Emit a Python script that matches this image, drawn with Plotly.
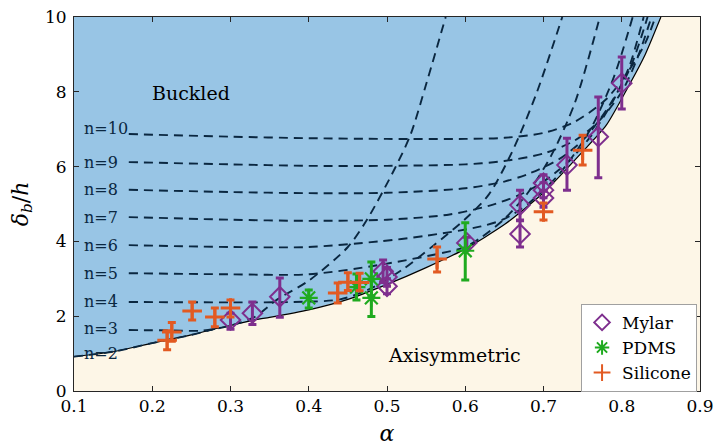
import plotly.graph_objects as go

# ---------------- data ----------------
# phase boundary (lower envelope of the neutral curves)
boundary_alpha = [0.10, 0.15, 0.20, 0.25, 0.28, 0.30, 0.33, 0.35, 0.40, 0.45, 0.50, 0.55, 0.60, 0.65, 0.70, 0.75, 0.78, 0.81, 0.83, 0.85]
boundary_delta = [0.92, 1.05, 1.28, 1.50, 1.66, 1.75, 1.90, 1.97, 2.17, 2.45, 2.85, 3.30, 3.80, 4.45, 5.30, 6.40, 7.10, 8.20, 9.00, 10.0]

# neutral curves for mode number n
n2_alpha = [0.10, 0.15, 0.20, 0.25, 0.28]
n2_delta = [0.92, 1.05, 1.28, 1.50, 1.66]
n3_alpha = [0.17, 0.22, 0.26, 0.28, 0.30, 0.33, 0.36, 0.40, 0.45, 0.475, 0.51, 0.53, 0.55, 0.575]
n3_delta = [1.63, 1.62, 1.61, 1.66, 1.75, 1.97, 2.45, 2.95, 3.85, 4.60, 5.95, 6.85, 8.20, 10.0]
n4_alpha = [0.17, 0.30, 0.38, 0.44, 0.48, 0.52, 0.56, 0.60, 0.63, 0.66, 0.69, 0.724]
n4_delta = [2.38, 2.37, 2.38, 2.45, 2.75, 3.25, 3.90, 4.60, 5.25, 6.40, 7.90, 10.0]
n5_alpha = [0.17, 0.30, 0.40, 0.49, 0.577, 0.60, 0.62, 0.65, 0.68, 0.71, 0.74, 0.772]
n5_delta = [3.15, 3.12, 3.12, 3.37, 3.72, 3.85, 4.10, 4.60, 5.30, 6.30, 7.70, 10.0]
n6_alpha = [0.17, 0.30, 0.40, 0.49, 0.55, 0.62, 0.65, 0.68, 0.72, 0.76, 0.79, 0.814]
n6_delta = [3.90, 3.85, 3.85, 4.00, 4.15, 4.40, 4.60, 5.00, 5.80, 7.00, 8.40, 10.0]
n7_alpha = [0.17, 0.30, 0.40, 0.50, 0.58, 0.63, 0.67, 0.70, 0.73, 0.76, 0.79, 0.81, 0.828]
n7_delta = [4.65, 4.58, 4.55, 4.58, 4.72, 4.95, 5.25, 5.60, 6.10, 6.80, 7.80, 8.70, 10.0]
n8_alpha = [0.17, 0.30, 0.40, 0.50, 0.60, 0.65, 0.68, 0.72, 0.75, 0.78, 0.81, 0.833]
n8_delta = [5.38, 5.32, 5.29, 5.30, 5.42, 5.60, 5.80, 6.20, 6.70, 7.50, 8.60, 10.0]
n9_alpha = [0.17, 0.30, 0.40, 0.50, 0.60, 0.65, 0.70, 0.74, 0.77, 0.80, 0.82, 0.838]
n9_delta = [6.12, 6.06, 6.02, 6.02, 6.06, 6.15, 6.35, 6.70, 7.20, 8.00, 8.90, 10.0]
n10_alpha = [0.17, 0.30, 0.40, 0.50, 0.60, 0.65, 0.70, 0.74, 0.78, 0.81, 0.83, 0.843]
n10_delta = [6.87, 6.80, 6.76, 6.74, 6.74, 6.77, 6.90, 7.20, 7.80, 8.60, 9.30, 10.0]

mode_labels = ["n=2", "n=3", "n=4", "n=5", "n=6", "n=7", "n=8", "n=9", "n=10"]
mode_label_delta = [0.99, 1.68, 2.40, 3.15, 3.88, 4.65, 5.40, 6.12, 7.03]

# experiments
mylar_alpha = [0.30, 0.328, 0.363, 0.495, 0.50, 0.50, 0.602, 0.67, 0.67, 0.70, 0.70, 0.70, 0.73, 0.77, 0.80]
mylar_delta = [1.90, 2.08, 2.52, 3.20, 3.05, 2.80, 3.96, 4.97, 4.20, 5.56, 5.37, 5.16, 6.04, 6.80, 8.23]
mylar_err_up = [0.18, 0.30, 0.50, 0.30, 0.25, 0.20, 0.15, 0.40, 0.35, 0.22, 0.20, 0.20, 0.72, 1.06, 0.70]
mylar_err_dn = [0.25, 0.30, 0.55, 0.30, 0.25, 0.20, 0.15, 0.40, 0.35, 0.22, 0.20, 0.25, 0.67, 1.10, 0.69]

pdms_alpha = [0.40, 0.461, 0.48, 0.48, 0.60]
pdms_delta = [2.49, 2.78, 3.00, 2.49, 3.75]
pdms_err_up = [0.21, 0.35, 0.45, 0.50, 0.75]
pdms_err_dn = [0.27, 0.35, 0.45, 0.50, 0.78]

silicone_alpha = [0.219, 0.225, 0.251, 0.28, 0.30, 0.437, 0.45, 0.465, 0.564, 0.70, 0.75]
silicone_delta = [1.36, 1.58, 2.14, 1.98, 2.22, 2.62, 2.91, 2.90, 3.53, 4.79, 6.44]
silicone_err_up = [0.25, 0.25, 0.24, 0.24, 0.21, 0.27, 0.25, 0.25, 0.32, 0.24, 0.40]
silicone_err_dn = [0.26, 0.25, 0.24, 0.26, 0.24, 0.27, 0.22, 0.22, 0.35, 0.22, 0.40]

# ---------------- styling ----------------
BLUE = "#98C5E5"
CREAM = "#FDF6E7"
DASH = "#0A2740"
MYLAR = "#7E2F8E"
PDMS = "#1FAA1F"
SILICONE = "#E25A22"
FONT = "DejaVu Serif"

fig = go.Figure()

# cream (axisymmetric) region below the boundary, and right of it
fig.add_trace(go.Scatter(
    x=boundary_alpha + [0.9], y=boundary_delta + [boundary_delta[-1]],
    mode="lines", line=dict(width=0, color=CREAM), fill="tozeroy",
    fillcolor=CREAM, hoverinfo="skip", showlegend=False))
fig.add_trace(go.Scatter(
    x=boundary_alpha, y=boundary_delta, mode="lines",
    line=dict(color="black", width=1.2, shape="spline", smoothing=0.6),
    hoverinfo="skip", showlegend=False))

curves = [(n2_alpha, n2_delta), (n3_alpha, n3_delta), (n4_alpha, n4_delta),
          (n5_alpha, n5_delta), (n6_alpha, n6_delta), (n7_alpha, n7_delta),
          (n8_alpha, n8_delta), (n9_alpha, n9_delta), (n10_alpha, n10_delta)]
for ca, cd in curves:
    fig.add_trace(go.Scatter(
        x=ca, y=cd, mode="lines",
        line=dict(color=DASH, width=1.9, dash="9px,6px", shape="spline", smoothing=0.8),
        hoverinfo="skip", showlegend=False))

fig.add_trace(go.Scatter(
    x=mylar_alpha, y=mylar_delta, mode="markers", name="Mylar",
    marker=dict(symbol="diamond-open", size=15, color=MYLAR, line=dict(width=2, color=MYLAR)),
    error_y=dict(type="data", symmetric=False, array=mylar_err_up, arrayminus=mylar_err_dn,
                 color=MYLAR, thickness=3, width=4)))
fig.add_trace(go.Scatter(
    x=pdms_alpha, y=pdms_delta, mode="markers", name="PDMS",
    marker=dict(symbol="asterisk-open", size=15, color=PDMS, line=dict(width=2.2, color=PDMS)),
    error_y=dict(type="data", symmetric=False, array=pdms_err_up, arrayminus=pdms_err_dn,
                 color=PDMS, thickness=3, width=4)))
fig.add_trace(go.Scatter(
    x=silicone_alpha, y=silicone_delta, mode="markers", name="Silicone",
    marker=dict(symbol="cross-thin-open", size=14, color=SILICONE, line=dict(width=3, color=SILICONE)),
    error_y=dict(type="data", symmetric=False, array=silicone_err_up, arrayminus=silicone_err_dn,
                 color=SILICONE, thickness=3, width=4)))

for lab, yv in zip(mode_labels, mode_label_delta):
    fig.add_annotation(x=0.110, y=yv, text=lab, showarrow=False, xanchor="left",
                       yanchor="middle", font=dict(family=FONT, size=16, color=DASH))

fig.add_annotation(x=0.25, y=7.97, text="Buckled", showarrow=False,
                   font=dict(family=FONT, size=19, color="black"))
fig.add_annotation(x=0.586, y=0.96, text="Axisymmetric", showarrow=False,
                   font=dict(family=FONT, size=19, color="black"))

axis_common = dict(showline=True, linecolor="#262626", linewidth=1, mirror="ticks",
                   ticks="inside", ticklen=5, tickcolor="#262626", showgrid=False,
                   zeroline=False, automargin=False,
                   tickfont=dict(family=FONT, size=17, color="black"))

fig.update_layout(
    width=717, height=448,
    margin=dict(l=74, r=17, t=17, b=57),
    paper_bgcolor="white", plot_bgcolor=BLUE,
    font=dict(family=FONT, size=17, color="black"),
    xaxis=dict(range=[0.1, 0.9], tickvals=[0.1, 0.2, 0.3, 0.4, 0.5, 0.6, 0.7, 0.8, 0.9],
               tickformat=".1f", title=dict(text="<i>α</i>", standoff=10,
                                             font=dict(family=FONT, size=22)), **axis_common),
    yaxis=dict(range=[0, 10], tickvals=[0, 2, 4, 6, 8, 10], ticklabelstandoff=3,
               title=dict(text="<i>δ<sub>b</sub></i>/<i>h</i>", standoff=10,
                          font=dict(family=FONT, size=22)), **axis_common),
    legend=dict(x=0.81, y=0.233, xanchor="left", yanchor="top", bgcolor="white",
                bordercolor="#a0a0a0", borderwidth=1,
                font=dict(family=FONT, size=17, color="black"),
                tracegroupgap=0, itemsizing="constant"),
    showlegend=True,
)

fig.write_html("out.html")
